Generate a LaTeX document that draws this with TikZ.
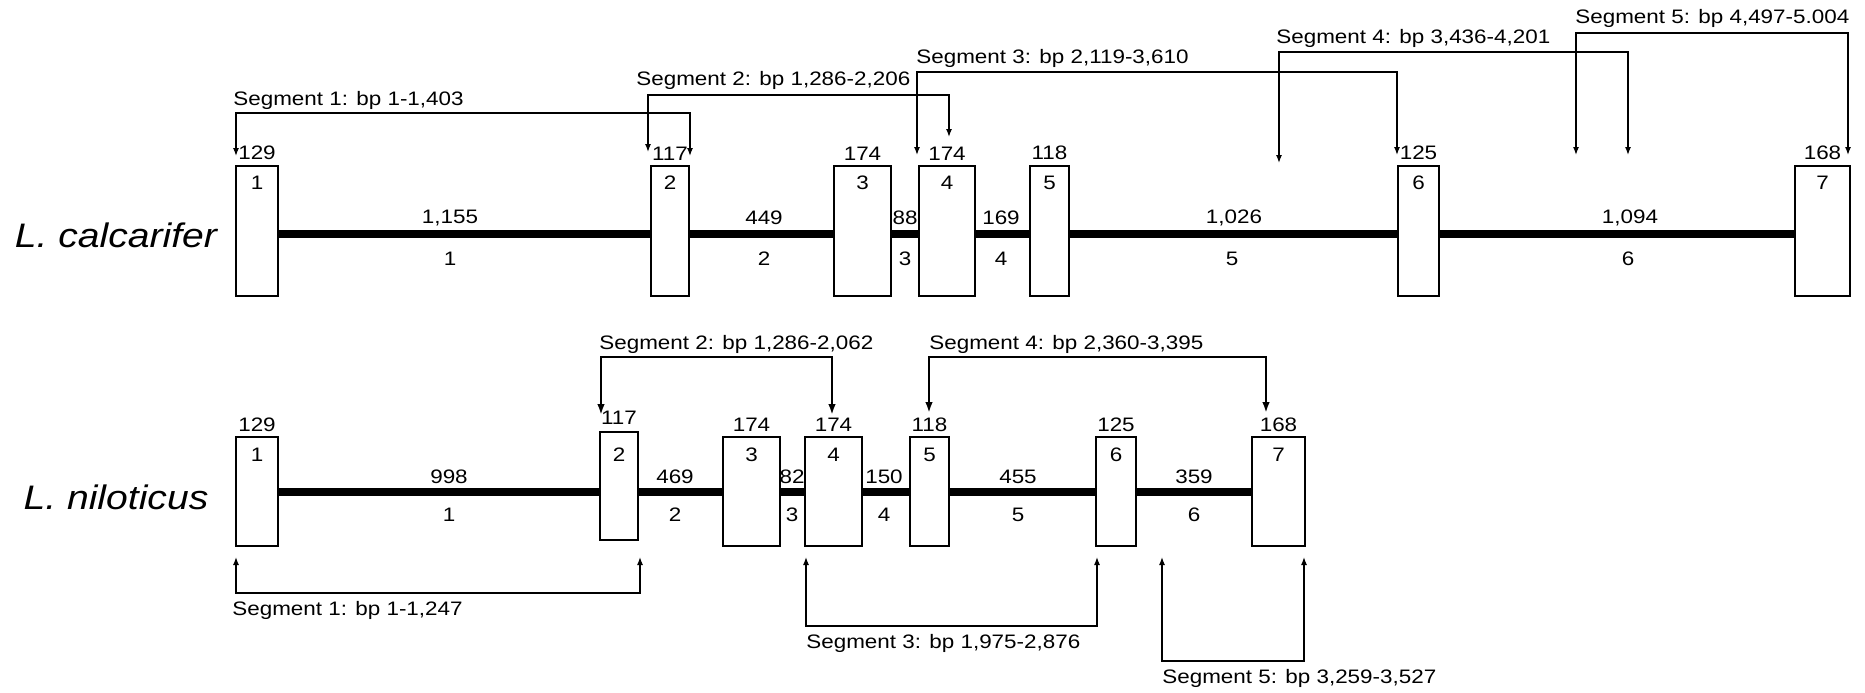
\documentclass[tikz,border=0pt]{standalone}
\usepackage{fontspec}
\setmainfont[FakeStretch=1.15]{Liberation Sans}
\usetikzlibrary{arrows.meta}
\begin{document}
\begin{tikzpicture}[x=0.5pt,y=-0.5pt,
  exon/.style={draw, line width=1pt, fill=white, inner sep=0pt},
  intron/.style={line width=4pt},
  lab/.style={inner sep=0pt, font=\fontsize{9.75pt}{11pt}\selectfont},
  species/.style={inner sep=0pt, font=\fontsize{17pt}{20pt}\selectfont\itshape},
  segthin/.style={line width=0.65pt, {Latex[length=4pt,width=3pt]}-{Latex[length=4pt,width=3pt]}},
  segthick/.style={line width=1.3pt, {Latex[length=5.5pt,width=3.8pt]}-{Latex[length=5.5pt,width=3.8pt]}},
  seglab/.style={lab, anchor=west}
]
\useasboundingbox[fill=white] (0,0) rectangle (1865,692);

% ---------------- L. calcarifer ----------------
\node[species] (sp1) at (116,235) {L. calcarifer};

\node[exon, minimum width=21pt,   minimum height=65pt] (t1) at (257,231) {};
\node[exon, minimum width=19pt,   minimum height=65pt] (t2) at (670,231) {};
\node[exon, minimum width=28.5pt, minimum height=65pt] (t3) at (862.5,231) {};
\node[exon, minimum width=28pt,   minimum height=65pt] (t4) at (947,231) {};
\node[exon, minimum width=19.5pt, minimum height=65pt] (t5) at (1049.5,231) {};
\node[exon, minimum width=20.5pt, minimum height=65pt] (t6) at (1418.5,231) {};
\node[exon, minimum width=27.5pt, minimum height=65pt] (t7) at (1822.5,231) {};

\draw[intron] ([yshift=-1.5pt]t1.east) -- ([yshift=-1.5pt]t2.west);
\draw[intron] ([yshift=-1.5pt]t2.east) -- ([yshift=-1.5pt]t3.west);
\draw[intron] ([yshift=-1.5pt]t3.east) -- ([yshift=-1.5pt]t4.west);
\draw[intron] ([yshift=-1.5pt]t4.east) -- ([yshift=-1.5pt]t5.west);
\draw[intron] ([yshift=-1.5pt]t5.east) -- ([yshift=-1.5pt]t6.west);
\draw[intron] ([yshift=-1.5pt]t6.east) -- ([yshift=-1.5pt]t7.west);

% exon sizes
\node[lab, above=2.25pt] (tz1) at (t1.north) {129};
\node[lab, above=2.25pt] (tz2) at (t2.north) {117};
\node[lab, above=2.25pt] (tz3) at (t3.north) {174};
\node[lab, above=2.25pt] (tz4) at (t4.north) {174};
\node[lab, above=2.25pt] (tz5) at (t5.north) {118};
\node[lab, above=2.25pt] (tz6) at (t6.north) {125};
\node[lab, above=2.25pt] (tz7) at (t7.north) {168};
% exon numbers
\node[lab, yshift=-9pt] (tn1) at (t1.north) {1};
\node[lab, yshift=-9pt] (tn2) at (t2.north) {2};
\node[lab, yshift=-9pt] (tn3) at (t3.north) {3};
\node[lab, yshift=-9pt] (tn4) at (t4.north) {4};
\node[lab, yshift=-9pt] (tn5) at (t5.north) {5};
\node[lab, yshift=-9pt] (tn6) at (t6.north) {6};
\node[lab, yshift=-9pt] (tn7) at (t7.north) {7};
% intron sizes and numbers
\node[lab] (ti1) at (450,218) {1,155}; \node[lab] (tj1) at (450,259) {1};
\node[lab] (ti2) at (764,218) {449};   \node[lab] (tj2) at (764,259) {2};
\node[lab] (ti3) at (905,218) {88};    \node[lab] (tj3) at (905,259) {3};
\node[lab] (ti4) at (1001,218) {169};  \node[lab] (tj4) at (1001,259) {4};
\node[lab] (ti5) at (1234,218) {1,026};\node[lab] (tj5) at (1232,259) {5};
\node[lab] (ti6) at (1630,218) {1,094};\node[lab] (tj6) at (1628,259) {6};

% segments (top)
\coordinate (ts1a) at (236,156);  \coordinate (ts1b) at (690,156);
\coordinate (ts2a) at (648,152);  \coordinate (ts2b) at (949,137);
\coordinate (ts3a) at (917,155);  \coordinate (ts3b) at (1397,155);
\coordinate (ts4a) at (1279,163); \coordinate (ts4b) at (1628,155);
\coordinate (ts5a) at (1576,155); \coordinate (ts5b) at (1848,155);
\draw[segthin] (ts1a) -- (ts1a |- 0,113) -| (ts1b);
\draw[segthin] (ts2a) -- (ts2a |- 0,95) -| (ts2b);
\draw[segthin] (ts3a) -- (ts3a |- 0,72) -| (ts3b);
\draw[segthin] (ts4a) -- (ts4a |- 0,52) -| (ts4b);
\draw[segthin] (ts5a) -- (ts5a |- 0,33) -| (ts5b);
\node[seglab] (tl1) at (233,100) {Segment 1: bp 1-1,403};
\node[seglab] (tl2) at (636,80) {Segment 2: bp 1,286-2,206};
\node[seglab] (tl3) at (916,58) {Segment 3: bp 2,119-3,610};
\node[seglab] (tl4) at (1276,38) {Segment 4: bp 3,436-4,201};
\node[seglab] (tl5) at (1575,18) {Segment 5: bp 4,497-5.004};

% ---------------- L. niloticus ----------------
\node[species] (sp2) at (116,497) {L. niloticus};

\node[exon, minimum width=21pt,   minimum height=54.5pt] (b1) at (257,491.5) {};
\node[exon, minimum width=19pt,   minimum height=54pt]   (b2) at (619,486) {};
\node[exon, minimum width=28.5pt, minimum height=54.5pt] (b3) at (751.5,491.5) {};
\node[exon, minimum width=28.5pt, minimum height=54.5pt] (b4) at (833.5,491.5) {};
\node[exon, minimum width=19.5pt, minimum height=54.5pt] (b5) at (929.5,491.5) {};
\node[exon, minimum width=20pt,   minimum height=54.5pt] (b6) at (1116,491.5) {};
\node[exon, minimum width=26.5pt, minimum height=54.5pt] (b7) at (1278.5,491.5) {};

\draw[intron] (b1.east) -- (b1.east -| b2.west);
\draw[intron] (b2.east |- b1.east) -- (b3.west);
\draw[intron] (b3.east) -- (b4.west);
\draw[intron] (b4.east) -- (b5.west);
\draw[intron] (b5.east) -- (b6.west);
\draw[intron] (b6.east) -- (b7.west);

\node[lab, above=2pt] (bz1) at (b1.north) {129};
\node[lab, above=3pt] (bz2) at (b2.north) {117};
\node[lab, above=2pt] (bz3) at (b3.north) {174};
\node[lab, above=2pt] (bz4) at (b4.north) {174};
\node[lab, above=2pt] (bz5) at (b5.north) {118};
\node[lab, above=2pt] (bz6) at (b6.north) {125};
\node[lab, above=2pt] (bz7) at (b7.north) {168};
\node[lab, yshift=-9.5pt] (bn1) at (b1.north) {1};
\node[lab, yshift=-12pt]  (bn2) at (b2.north) {2};
\node[lab, yshift=-9.5pt] (bn3) at (b3.north) {3};
\node[lab, yshift=-9.5pt] (bn4) at (b4.north) {4};
\node[lab, yshift=-9.5pt] (bn5) at (b5.north) {5};
\node[lab, yshift=-9.5pt] (bn6) at (b6.north) {6};
\node[lab, yshift=-9.5pt] (bn7) at (b7.north) {7};
\node[lab] (bi1) at (449,477) {998};  \node[lab] (bj1) at (449,515) {1};
\node[lab] (bi2) at (675,477) {469};  \node[lab] (bj2) at (675,515) {2};
\node[lab] (bi3) at (792,477) {82};   \node[lab] (bj3) at (792,515) {3};
\node[lab] (bi4) at (884,477) {150};  \node[lab] (bj4) at (884,515) {4};
\node[lab] (bi5) at (1018,477) {455}; \node[lab] (bj5) at (1018,515) {5};
\node[lab] (bi6) at (1194,477) {359}; \node[lab] (bj6) at (1194,515) {6};

% segments (bottom)
\coordinate (bs1a) at (236,557);  \coordinate (bs1b) at (640,557);
\coordinate (bs2a) at (601,415);  \coordinate (bs2b) at (832,415);
\coordinate (bs3a) at (806,557);  \coordinate (bs3b) at (1097,557);
\coordinate (bs4a) at (929,413);  \coordinate (bs4b) at (1266,413);
\coordinate (bs5a) at (1162,557); \coordinate (bs5b) at (1304,557);
\draw[segthin]  (bs1a) -- (bs1a |- 0,593) -| (bs1b);
\draw[segthick] (bs2a) -- (bs2a |- 0,357) -| (bs2b);
\draw[segthin]  (bs3a) -- (bs3a |- 0,626) -| (bs3b);
\draw[segthick] (bs4a) -- (bs4a |- 0,357) -| (bs4b);
\draw[segthin]  (bs5a) -- (bs5a |- 0,661) -| (bs5b);
\node[seglab] (bl1) at (232,610) {Segment 1: bp 1-1,247};
\node[seglab] (bl2) at (599,344) {Segment 2: bp 1,286-2,062};
\node[seglab] (bl3) at (806,643) {Segment 3: bp 1,975-2,876};
\node[seglab] (bl4) at (929,344) {Segment 4: bp 2,360-3,395};
\node[seglab] (bl5) at (1162,678) {Segment 5: bp 3,259-3,527};
\end{tikzpicture}
\end{document}
